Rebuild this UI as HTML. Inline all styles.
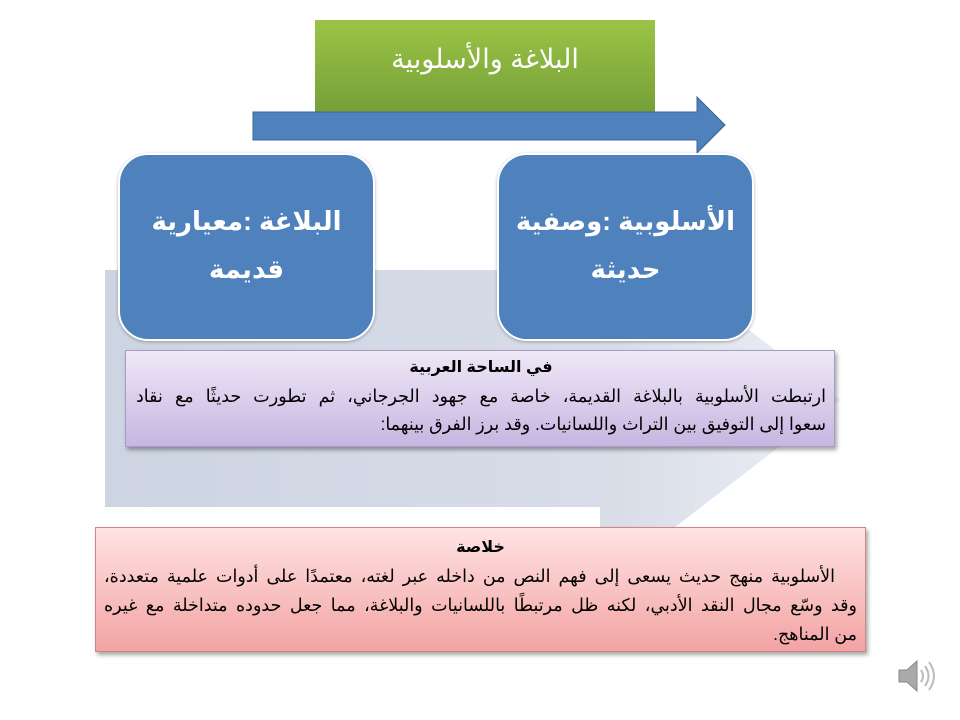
<!DOCTYPE html>
<html><head><meta charset="utf-8"><style>
body{margin:0;width:960px;height:720px;background:#fff;position:relative;overflow:hidden;font-family:"Liberation Sans","DejaVu Sans",sans-serif}
div{box-sizing:border-box}
.blue{position:absolute;top:153px;width:257px;height:188px;background:#4f81bd;border:2px solid #fff;border-radius:30px;box-shadow:0 1px 3px rgba(0,0,0,.3);color:#fff;font-weight:bold;font-size:26px;text-align:center;direction:rtl;padding-top:42px;line-height:48px;white-space:nowrap}
.box{position:absolute;direction:rtl;color:#000;font-size:17.5px;box-shadow:2px 3px 4px rgba(0,0,0,.35)}
.box .t{text-align:center;font-weight:bold;font-size:16px}
.box .l{text-align:justify;text-align-last:justify;white-space:nowrap}
.box .e{text-align:right;white-space:nowrap}
</style></head><body>
<svg width="960" height="720" style="position:absolute;left:0;top:0">
<defs><linearGradient id="g" x1="0" y1="0" x2="1" y2="0"><stop offset="0" stop-color="#cdd4e2"/><stop offset=".7" stop-color="#d8dde8"/><stop offset="1" stop-color="#eef0f5"/></linearGradient>
<linearGradient id="gr" x1="0" y1="0" x2="0" y2="1"><stop offset="0" stop-color="#9bc446"/><stop offset="1" stop-color="#76a038"/></linearGradient></defs>
<polygon points="105,270 600,270 600,215 840,400 600,585 600,507 105,507" fill="url(#g)"/>
<rect x="315" y="20" width="340" height="92" fill="url(#gr)"/>
<polygon points="253,112 697,112 697,97 725,125 697,153 697,140 253,140" fill="#4f81bd" stroke="#3b6596" stroke-width="1"/>
<g transform="translate(897,660)"><path d="M2,10 h8 l10,-9 v30 l-10,-9 h-8z" fill="#aaa" stroke="#888"/><path d="M24,10 q4,6 0,12 M28,6 q7,10 0,20 M32,2 q10,14 0,28" stroke="#bbb" stroke-width="2" fill="none"/></g>
</svg>
<div style="position:absolute;left:315px;top:44px;width:340px;text-align:center;color:#fff;font-size:27px;direction:rtl">البلاغة والأسلوبية</div>
<div class="blue" style="left:118px">البلاغة :معيارية<br>قديمة</div>
<div class="blue" style="left:497px">الأسلوبية :وصفية<br>حديثة</div>
<div class="box" style="left:125px;top:350px;width:710px;height:97px;background:linear-gradient(#efe8f7,#c6b6e1);border:1px solid #a99bc4;padding:3px 8px 0 10px;line-height:28px">
<div class="t">في الساحة العربية</div>
<div class="l">ارتبطت الأسلوبية بالبلاغة القديمة، خاصة مع جهود الجرجاني، ثم تطورت حديثًا مع نقاد</div>
<div class="e">سعوا إلى التوفيق بين التراث واللسانيات. وقد برز الفرق بينهما:</div>
</div>
<div class="box" style="left:95px;top:527px;width:771px;height:125px;background:linear-gradient(#ffe3e3,#f3a3a3);border:1px solid #c88;padding:5px 8px 0 8px;line-height:29px">
<div class="t">خلاصة</div>
<div class="l" style="padding-right:22px">الأسلوبية منهج حديث يسعى إلى فهم النص من داخله عبر لغته، معتمدًا على أدوات علمية متعددة،</div>
<div class="l">وقد وسّع مجال النقد الأدبي، لكنه ظل مرتبطًا باللسانيات والبلاغة، مما جعل حدوده متداخلة مع غيره</div>
<div class="e">من المناهج.</div>
</div>
</body></html>
